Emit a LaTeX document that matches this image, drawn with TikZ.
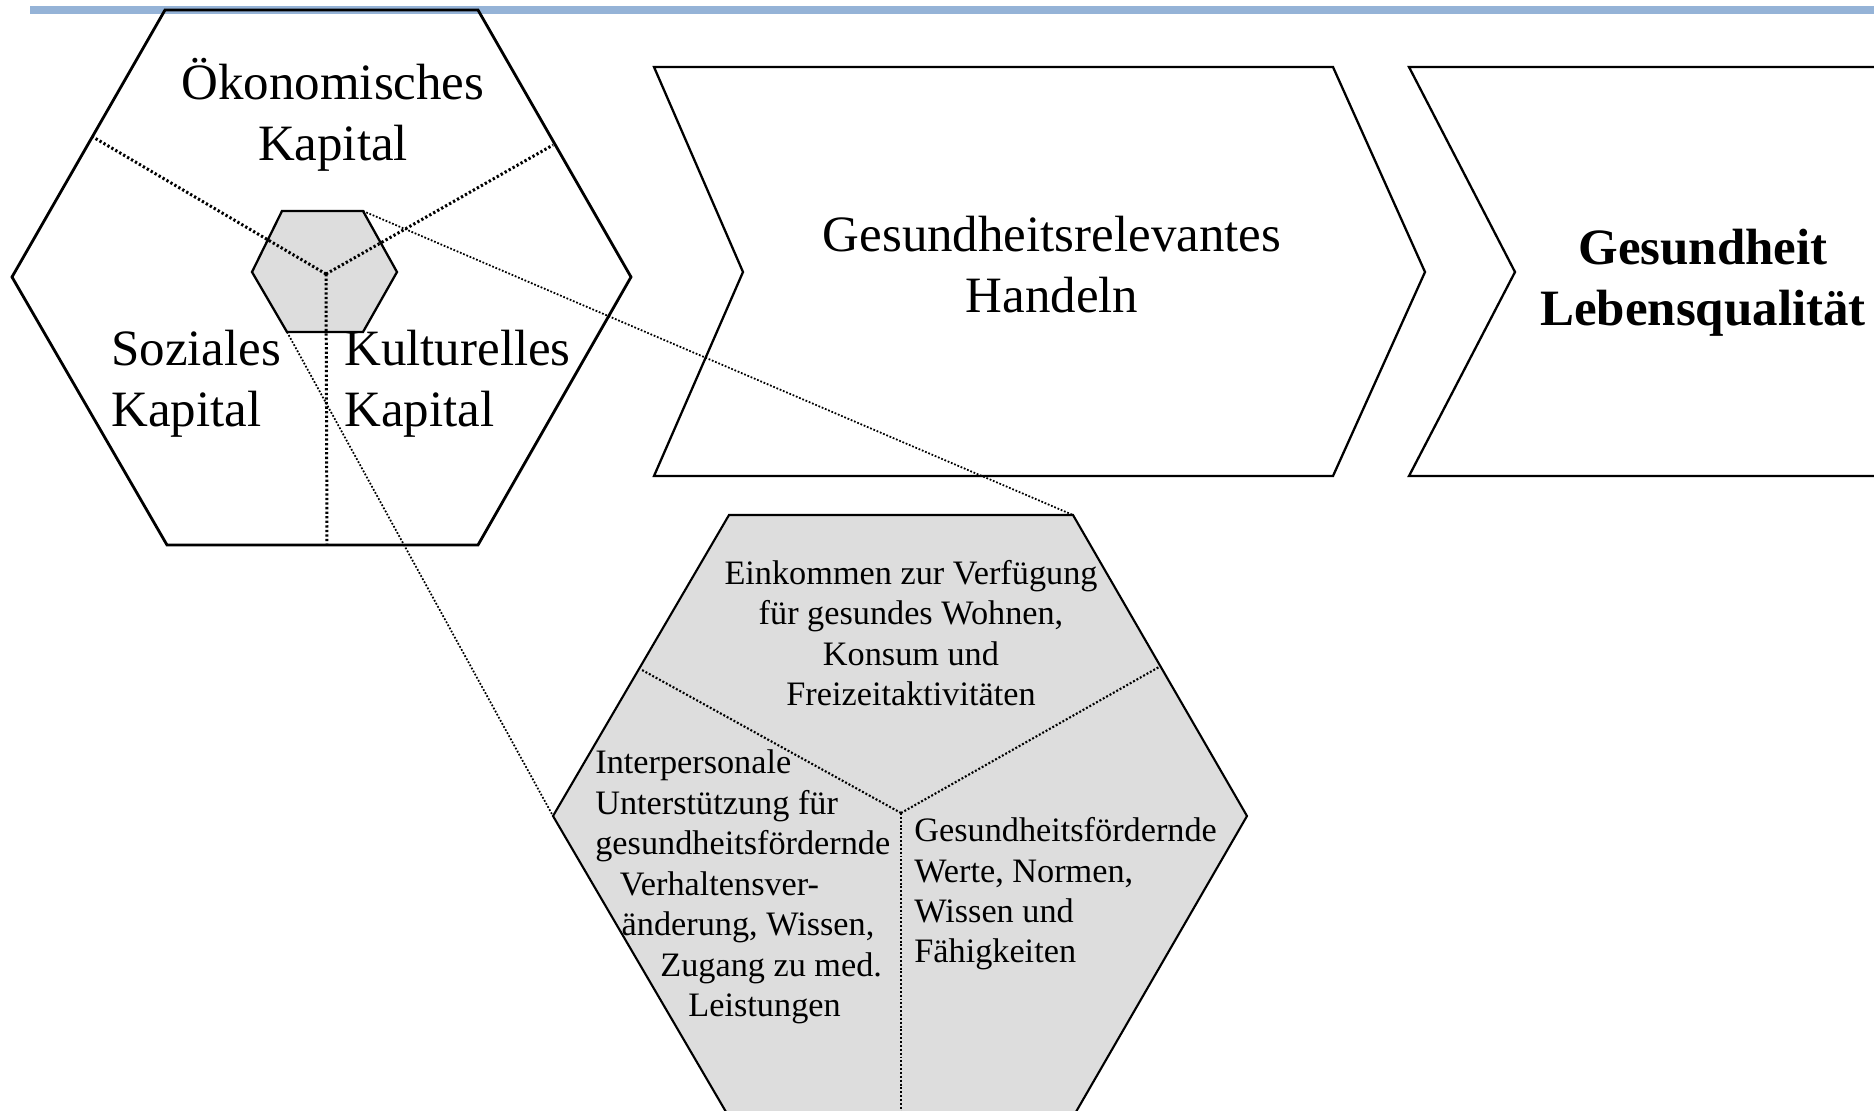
\documentclass[tikz,border=0pt]{standalone}
\usepackage{fontspec}
\setmainfont{Liberation Serif}
\usepackage{tikz}
\usetikzlibrary{positioning}
\definecolor{barblue}{RGB}{149,179,215}
\definecolor{hexgray}{RGB}{221,221,221}
\tikzset{
    hexa/.style={
           draw=black,
           line width=1.6pt,
           line join=miter,
           },
    chevron/.style={
           draw=black,
           line width=1.3pt,
           },
    trenn/.style={
           draw=black,
           line width=1.7pt,
           dash pattern=on 1.3pt off 1.3pt,
           },
    zoomline/.style={
           draw=black,
           line width=1pt,
           dash pattern=on 1pt off 1pt,
           },
    gross/.style={
           font=\fontsize{29}{34.7}\selectfont,
           inner sep=0pt,
           },
    klein/.style={
           font=\fontsize{19.5}{23}\selectfont,
           inner sep=0pt,
           },
}

\begin{document}
\begin{tikzpicture}[x=0.02cm, y=-0.02cm]
    \clip (0,0) rectangle (1874,1110);
    % blue bar at the top
    \draw[barblue, line width=5pt] (30,10) -- (1874,10);

    % big hexagon: the three kinds of capital
    \draw[hexa] (165,10) -- (478,10) -- (631,277) -- (478,545)
        -- (167,545) -- (12,277) -- cycle;
    % small hexagon in its middle
    \draw[hexa, fill=hexgray, line width=1.3pt] (282,211) coordinate (sk-nw)
        -- (363,211) coordinate (sk-ne) -- (397,272)
        -- (363,332) -- (287,332) coordinate (sk-sw) -- (252,272) -- cycle;
    \coordinate (gm) at (326,274);
    \draw[trenn] (gm) -- (93,137);
    \draw[trenn] (gm) -- (553,145);
    \draw[trenn] (gm) -- (327,545);

    % the two chevrons
    \draw[chevron] (654,67) -- (1333,67) -- (1425,272) -- (1333,476)
        -- (654,476) -- (743,272) -- cycle;
    \draw[chevron] (1409,67) -- (1960,67) -- (2050,272) -- (1960,476)
        -- (1409,476) -- (1515,272) -- cycle;

    % grey hexagon below (zoomed view)
    \draw[hexa, fill=hexgray, line width=1.2pt] (729,515) coordinate (uk-nw)
        -- (1073,515) coordinate (uk-ne) -- (1247,816)
        -- (1073,1117) -- (729,1117) -- (553,816) coordinate (uk-w) -- cycle;
    \coordinate (um) at (901,813);
    \draw[trenn, line width=1.2pt, dash pattern=on 1.1pt off 1.1pt] (um) -- (642,670);
    \draw[trenn, line width=1.2pt, dash pattern=on 1.1pt off 1.1pt] (um) -- (1159,667);
    \draw[trenn, line width=1.2pt, dash pattern=on 1.1pt off 1.1pt] (um) -- (901,1117);

    % zoom lines
    \draw[zoomline] (sk-ne) -- (uk-ne);
    \draw[zoomline] (sk-sw) -- (uk-w);

    % texts of the big hexagon
    \node[gross, align=center] (oekon) at (333,115)
        {Ökonomisches\\Kapital};
    \node[gross, align=left, anchor=west] (sozial) at (111,384)
        {Soziales\\Kapital};
    \node[gross, align=left, anchor=west] (kultur) at (344,384)
        {Kulturelles\\Kapital};

    % texts of the chevrons
    \node[gross, align=center] (handeln) at (1052,265)
        {Gesundheitsrelevantes\\Handeln};
    \node[gross, align=center, font=\fontsize{29}{34.7}\selectfont\bfseries] (gesund) at (1703,283)
        {Gesundheit\\Lebensqualität};

    % texts of the grey hexagon
    \node[klein, align=center] (einkommen) at (911,633)
        {Einkommen zur Verfügung\\für gesundes Wohnen,\\Konsum und\\Freizeitaktivitäten};
    \node[klein, align=left, anchor=west] (interpers) at (595,887)
        {Interpersonale\\Unterstützung für\\gesundheitsfördernde\\
         \hspace*{14pt}Verhaltensver-\\\hspace*{15pt}änderung, Wissen,\\
         \hspace*{37pt}Zugang zu med.\\\hspace*{53pt}Leistungen};
    \node[klein, align=left, anchor=west] (werte) at (914,894)
        {Gesundheitsfördernde\\Werte, Normen,\\Wissen und\\Fähigkeiten};
\end{tikzpicture}
\end{document}
